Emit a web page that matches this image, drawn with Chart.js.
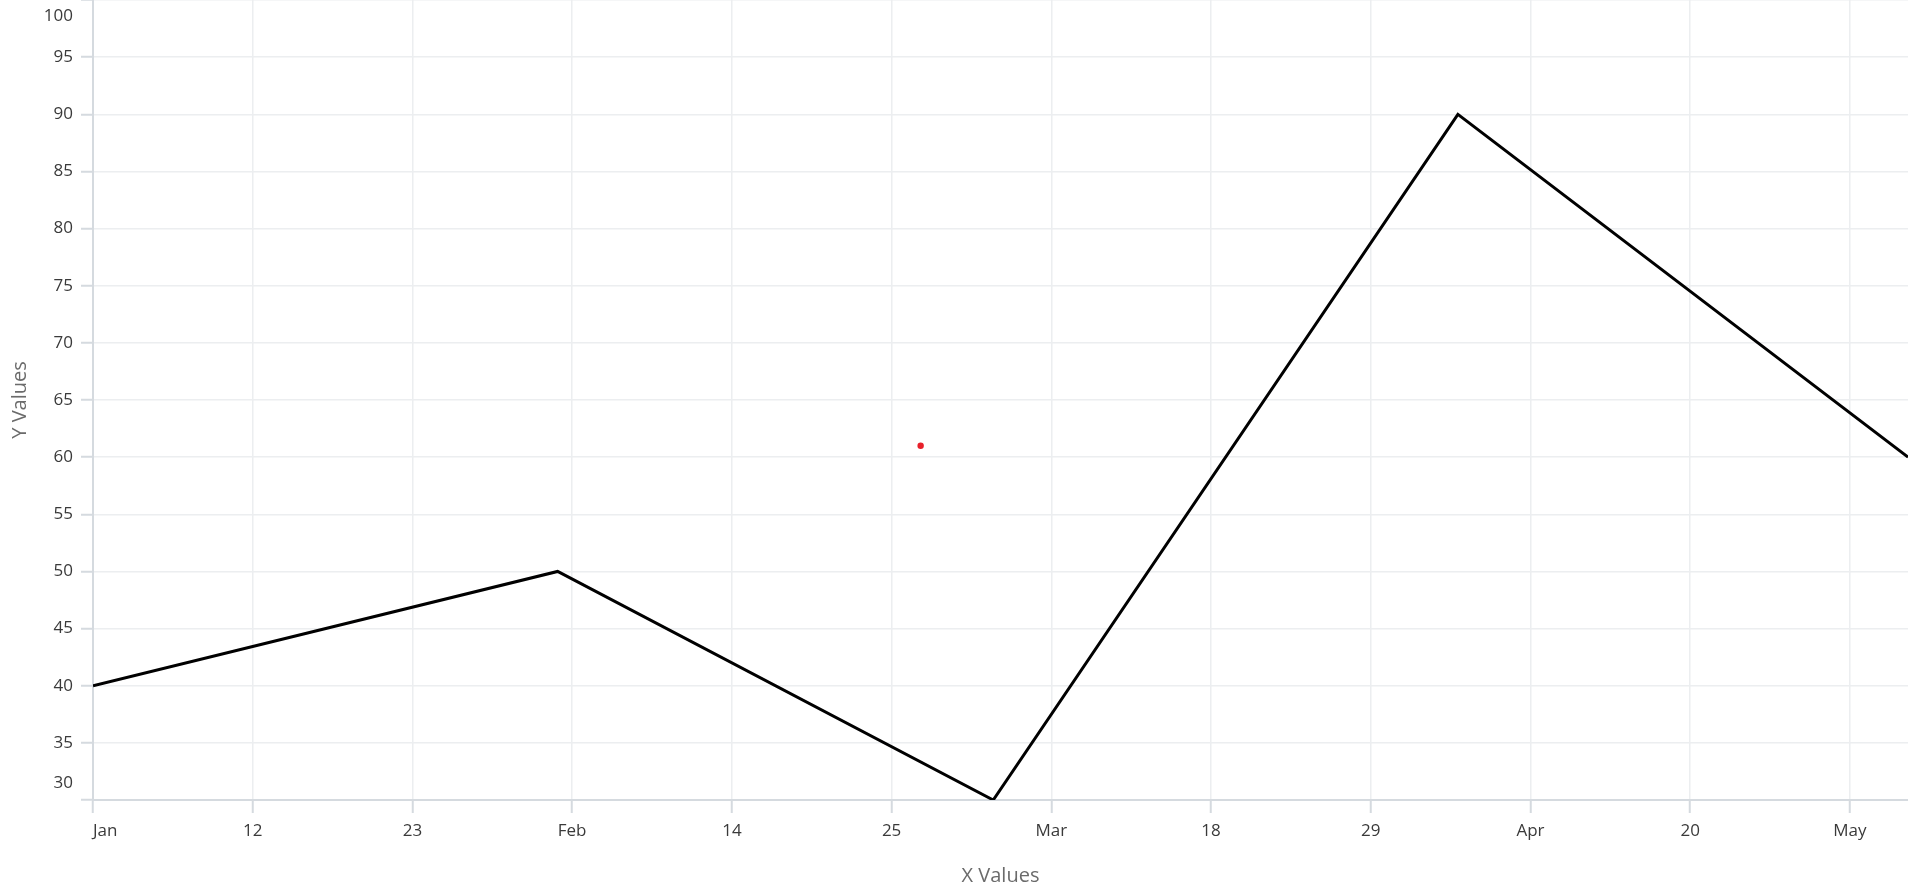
<!DOCTYPE html>
<html>
<head>
<meta charset="utf-8">
<title>Y Values by date</title>
<script src="https://cdn.jsdelivr.net/npm/chart.js@4.4.1/dist/chart.umd.min.js"></script>
<style>
  html, body {
    margin: 0;
    padding: 0;
    background: #ffffff;
  }
  canvas {
    display: block;
  }
</style>
</head>
<body>
<canvas id="chart" width="1908" height="892"></canvas>
<script>
const START_DATE = `2024-01-01`;
const END_DATE = `2024-05-05`;

const lineDates = [`2024-01-01`, `2024-02-02`, `2024-03-03`, `2024-04-04`, `2024-05-05`];
const lineValues = [40, 50, 30, 90, 60];

const markerDates = [`2024-02-27`];
const markerValues = [61];

const xTickDates = [`2024-01-01`, `2024-01-12`, `2024-01-23`, `2024-02-03`, `2024-02-14`, `2024-02-25`,
  `2024-03-07`, `2024-03-18`, `2024-03-29`, `2024-04-09`, `2024-04-20`, `2024-05-01`];
const xTickLabels = [`Jan`, `12`, `23`, `Feb`, `14`, `25`, `Mar`, `18`, `29`, `Apr`, `20`, `May`];

const yTicks = [30, 35, 40, 45, 50, 55, 60, 65, 70, 75, 80, 85, 90, 95, 100];

const FONT = `'Open Sans', 'Noto Sans', sans-serif`;
const TICK_SIZE = 17;
const GRID_COLOR = `#eceef0`;
const AXIS_COLOR = `#d5dadf`;
const DAY = 24 * 60 * 60 * 1000;

// days since the first date, the x scale is a plain linear one
const toDay = (date) => (Date.parse(date) - Date.parse(START_DATE)) / DAY;

const xMax = toDay(END_DATE);
const yMin = yTicks[0];
const yMax = yTicks[yTicks.length - 1];

const xLabelByDay = {};
xTickDates.forEach((date, i) => {
  xLabelByDay[toDay(date)] = xTickLabels[i];
});

const toPoints = (dates, values) => dates.map((date, i) => ({x: toDay(date), y: values[i]}));

const isEdgeTick = (ctx) => ctx.tick && ctx.tick.value === xMax;

new Chart(document.getElementById(`chart`), {
  type: `line`,
  data: {
    datasets: [{
      data: toPoints(lineDates, lineValues),
      borderColor: `#000000`,
      borderWidth: 3,
      pointRadius: 0,
      tension: 0
    }, {
      data: toPoints(markerDates, markerValues),
      showLine: false,
      pointRadius: 3.2,
      pointBorderWidth: 0,
      pointBackgroundColor: `#e8202a`
    }]
  },
  options: {
    responsive: false,
    animation: false,
    events: [],
    layout: {
      padding: 0,
      autoPadding: false
    },
    plugins: {
      legend: {
        display: false
      },
      tooltip: {
        enabled: false
      }
    },
    scales: {
      x: {
        type: `linear`,
        min: 0,
        max: xMax,
        afterBuildTicks: (scale) => {
          // the last (empty) tick sits on the right edge so `inner` keeps May centred
          scale.ticks = xTickDates.map((date) => ({value: toDay(date)})).concat({value: xMax});
        },
        afterFit: (scale) => {
          scale.height = 92;
          scale.paddingLeft = 0;
          scale.paddingRight = 0;
        },
        ticks: {
          callback: (value) => xLabelByDay[value] || ``,
          align: `inner`,
          autoSkip: false,
          maxRotation: 0,
          padding: 8,
          color: `#3a3a3a`,
          font: {
            family: FONT,
            size: TICK_SIZE
          }
        },
        grid: {
          color: (ctx) => isEdgeTick(ctx) ? `rgba(0,0,0,0)` : GRID_COLOR,
          tickColor: (ctx) => isEdgeTick(ctx) ? `rgba(0,0,0,0)` : AXIS_COLOR,
          lineWidth: 1.5,
          tickWidth: 2,
          tickLength: 13
        },
        border: {
          color: AXIS_COLOR,
          width: 2
        },
        title: {
          display: true,
          text: `X Values`,
          color: `#6b6b6b`,
          padding: {top: 0, bottom: 4},
          font: {
            family: FONT,
            size: 20
          }
        }
      },
      y: {
        min: yMin,
        max: yMax,
        afterBuildTicks: (scale) => {
          scale.ticks = yTicks.map((value) => ({value}));
        },
        afterFit: (scale) => {
          scale.width = 93;
          scale.paddingTop = 0;
          scale.paddingBottom = 0;
        },
        ticks: {
          // edge labels are pushed inside the plot with an empty extra line
          callback: (value) => {
            if (value === yMax) {
              return [``, String(value)];
            }
            if (value === yMin) {
              return [String(value), ``];
            }
            return String(value);
          },
          autoSkip: false,
          padding: 8,
          color: `#3a3a3a`,
          font: (ctx) => {
            const value = ctx.tick ? ctx.tick.value : null;
            let lineHeight = 1.2;
            if (value === yMax) {
              lineHeight = `32px`;
            } else if (value === yMin) {
              lineHeight = `34px`;
            }
            return {family: FONT, size: TICK_SIZE, lineHeight};
          }
        },
        grid: {
          color: GRID_COLOR,
          tickColor: AXIS_COLOR,
          lineWidth: 1.5,
          tickWidth: 2,
          tickLength: 12
        },
        border: {
          color: AXIS_COLOR,
          width: 2
        },
        title: {
          display: true,
          text: `Y Values`,
          color: `#6b6b6b`,
          padding: {top: 8, bottom: 0},
          font: {
            family: FONT,
            size: 20
          }
        }
      }
    }
  }
});
</script>
</body>
</html>
